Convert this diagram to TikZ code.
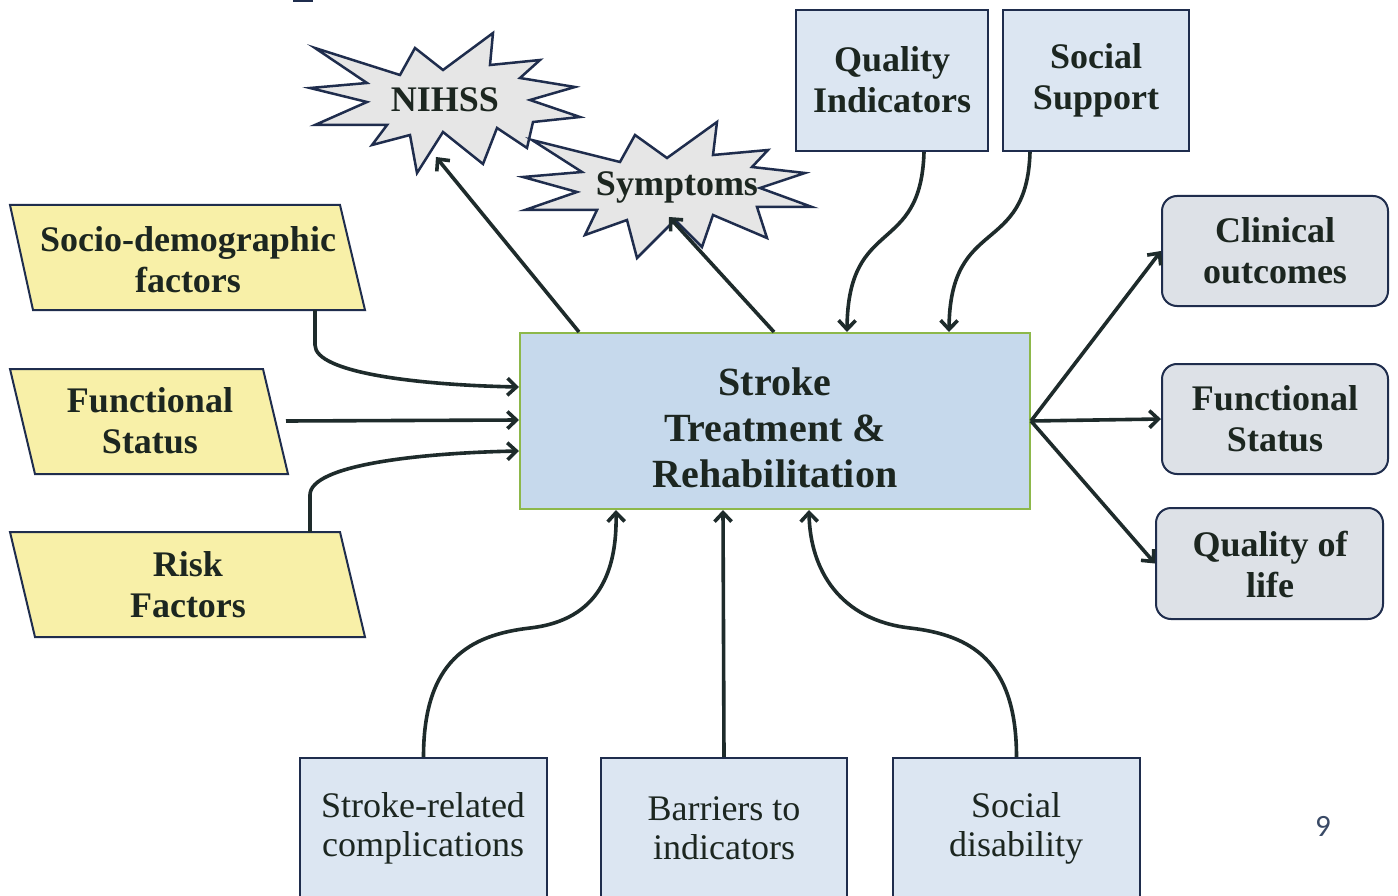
\documentclass[tikz,border=0pt]{standalone}
\usepackage{fontspec}
\setmainfont{Liberation Serif}
\setsansfont{Carlito}
\usetikzlibrary{arrows.meta,calc}
\definecolor{txtc}{HTML}{1C2620}
\definecolor{arrc}{HTML}{1E2B2B}
\definecolor{navy}{HTML}{1F2D4D}
\definecolor{yel}{HTML}{F8F0A8}
\definecolor{lblue}{HTML}{DCE6F2}
\definecolor{cblue}{HTML}{C6D9EC}
\definecolor{cgreen}{HTML}{8DB84A}
\definecolor{lgray}{HTML}{DDE1E7}
\definecolor{sgray}{HTML}{E6E6E6}
\definecolor{pnumc}{HTML}{3A4A66}
\tikzset{
  txt/.style={font=\fontsize{36}{41}\selectfont\bfseries, text=txtc, align=center, inner sep=0pt},
  bigtxt/.style={font=\fontsize{40}{46}\selectfont\bfseries, text=txtc, align=center},
  lowtxt/.style={font=\fontsize{36}{39}\selectfont, text=txtc, align=center},
  yelshape/.style={draw=navy, fill=yel, line width=2pt, line join=miter},
  bluebox/.style={draw=navy, fill=lblue, line width=2pt, inner sep=0pt},
  roundbox/.style={draw=navy, fill=lgray, line width=2pt, rounded corners=15pt, inner sep=0pt},
  centerbox/.style={draw=cgreen, fill=cblue, line width=2pt, inner sep=0pt},
  starshape/.style={draw=navy, fill=sgray, line width=2.5pt, line join=miter},
  conn/.style={draw=arrc, line width=3.6pt, -{Straight Barb[length=9pt,width=17pt]}},
}
\begin{document}
\begin{tikzpicture}[x=1pt,y=-1pt]
\useasboundingbox (0,0) rectangle (1398,896);
\fill[white] (0,0) rectangle (1398,896);
\fill[navy] (293,0) rectangle (313,2.5);

% yellow parallelograms
\draw[yelshape] (10,205) -- (340,205) -- (365,310) -- (33,310) -- cycle;
\draw[yelshape] (10,369) -- (263,369) -- (288,474) -- (35,474) -- cycle;
\draw[yelshape] (10,532) -- (340,532) -- (365,637) -- (35,637) -- cycle;
\node[txt] (socio) at (188,260) {Socio-demographic\\factors};
\node[txt] (fsl) at (150,421) {Functional\\Status};
\node[txt] (risk) at (188,585) {Risk\\Factors};
\coordinate (socioOut) at (315,310);
\coordinate (fslOut) at (286,421);
\coordinate (riskOut) at (310,532);

% starbursts
\draw[starshape] (315,48) -- (400,75) -- (415,48) -- (443,70) -- (493,33) -- (490,65) -- (540,60) -- (520,78) -- (575,87) -- (530,100) -- (580,117) -- (533,122) -- (527,148) -- (497,128) -- (483,164) -- (443,132) -- (417,173) -- (410,135) -- (372,145) -- (387,125) -- (315,125) -- (367,102) -- (310,88) -- (367,83) -- cycle;
\node[txt] (nihss) at (445,100) {NIHSS};
\draw[starshape] (532,140) -- (620,162) -- (635,135) -- (667,158) -- (717,122) -- (713,155) -- (768,150) -- (752,167) -- (805,173) -- (760,188) -- (812,207) -- (757,207) -- (767,238) -- (713,215) -- (702,247) -- (675,220) -- (637,258) -- (627,220) -- (585,235) -- (597,210) -- (525,210) -- (577,192) -- (523,177) -- (582,172) -- cycle;
\node[txt] (symp) at (677,187) {Symptoms};

% top boxes
\node[bluebox, minimum width=192pt, minimum height=141pt] (qi) at (892,80.5) {};
\node[txt] (qit) at (892,80) {Quality\\Indicators};
\node[bluebox, minimum width=186pt, minimum height=141pt] (ss) at (1096,80.5) {};
\node[txt] (sst) at (1096,80) {Social\\Support};

% center box
\node[centerbox, minimum width=510pt, minimum height=176pt] (ctr) at (775,421) {};
\node[bigtxt] (ctrt) at (775,428) {Stroke\\Treatment \&\\Rehabilitation};

% right boxes
\node[roundbox, minimum width=226pt, minimum height=110pt] (co) at (1275,251) {};
\node[txt] (cot) at (1275,251) {Clinical\\outcomes};
\node[roundbox, minimum width=226pt, minimum height=110pt] (fsr) at (1275,419) {};
\node[txt] (fsrt) at (1275,419) {Functional\\Status};
\node[roundbox, minimum width=227pt, minimum height=111pt] (qol) at (1269.5,563.5) {};
\node[txt] (qolt) at (1270,564) {Quality of\\life};

% bottom boxes
\node[bluebox, anchor=north, minimum width=247pt, minimum height=142pt] (src) at (423.5,757) {};
\node[lowtxt] (srct) at (423,828) {Stroke-related\\complications};
\node[bluebox, anchor=north, minimum width=246pt, minimum height=142pt] (bar) at (724,757) {};
\node[lowtxt] (bart) at (724,828) {Barriers to\\indicators};
\node[bluebox, anchor=north, minimum width=247pt, minimum height=142pt] (sd) at (1016.5,757) {};
\node[lowtxt] (sdt) at (1016,828) {Social\\disability};

\node[font=\sffamily\fontsize{31}{34}\selectfont, text=pnumc] (pnum) at (1323,826) {9};

% connectors: left
\draw[conn] (socioOut) -- ++(0,35) .. controls +(0,28) and +(-100,-2) .. ($(ctr.north west)+(0,55)$);
\draw[conn] (fslOut) -- ($(ctr.north west)+(0,88)$);
\draw[conn] (riskOut) -- ++(0,-37) .. controls +(0,-30) and +(-100,2) .. ($(ctr.north west)+(0,119)$);

% to stars
\draw[conn] ($(ctr.north west)+(60,0)$) -- ($(nihss)+(-9,57)$);
\draw[conn] ($(ctr.north west)+(255,0)$) -- ($(symp)+(-8,30)$);

% from top boxes
\draw[conn] ($(qi.south west)+(129,0)$) .. controls +(-3,105) and (848,215) .. ($(ctr.north west)+(328,0)$);
\draw[conn] ($(ss.south west)+(28,0)$) .. controls +(-3,105) and (950,215) .. ($(ctr.north west)+(430,0)$);

% right outputs
\draw[conn] (ctr.east) -- (co.west);
\draw[conn] (ctr.east) -- (fsr.west);
\draw[conn] (ctr.east) -- (qol.west);

% from bottom boxes
\draw[conn] (src.north) .. controls +(0,-97) and (470,635) .. (530,628) .. controls (600,620) and (617,570) .. ($(ctr.south west)+(97,0)$);
\draw[conn] (bar.north) -- ($(ctr.south west)+(204,0)$);
\draw[conn] (sd.north) .. controls +(0,-97) and (970,635) .. (910,628) .. controls (840,620) and (810,570) .. ($(ctr.south west)+(290,0)$);
\end{tikzpicture}
\end{document}
